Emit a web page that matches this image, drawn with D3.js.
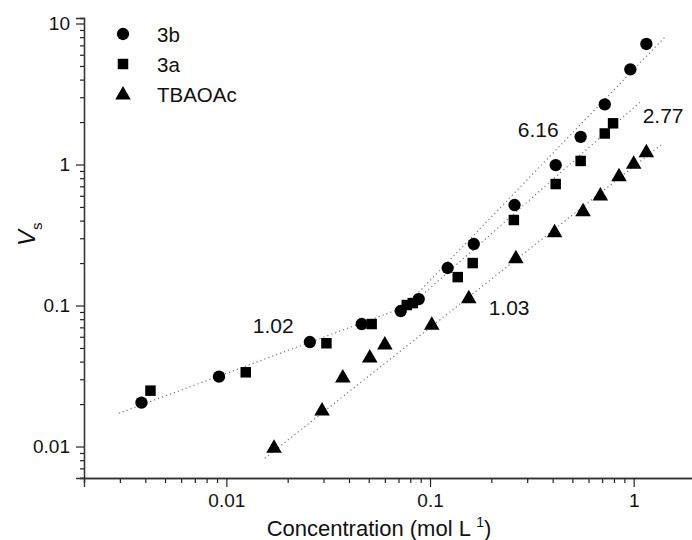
<!DOCTYPE html>
<html>
<head>
<meta charset="utf-8">
<script src="https://cdn.jsdelivr.net/npm/d3@7"></script>
<style>
  html, body { margin: 0; padding: 0; background: #fff; }
  svg { display: block; font-family: "Liberation Sans", Arial, sans-serif; }
</style>
</head>
<body>
<svg id="chart" width="692" height="540"></svg>
<script>
// Concentration (mol L-1) and Vs for each compound
const conc3b = [0.00383, 0.0092, 0.0257, 0.0462, 0.0718, 0.0880, 0.122, 0.164, 0.260, 0.414, 0.549, 0.721, 0.963, 1.154];
const vs3b   = [0.0205, 0.0313, 0.0551, 0.0739, 0.0914, 0.111, 0.1845, 0.273, 0.516, 0.99, 1.57, 2.67, 4.73, 7.16];

const conc3a = [0.00424, 0.01245, 0.031, 0.0517, 0.0769, 0.0823, 0.1368, 0.162, 0.258, 0.414, 0.549, 0.721, 0.792];
const vs3a   = [0.0249, 0.0336, 0.054, 0.0739, 0.1008, 0.104, 0.159, 0.200, 0.404, 0.727, 1.06, 1.66, 1.96];

const concTB = [0.01714, 0.0295, 0.0373, 0.0506, 0.060, 0.102, 0.155, 0.264, 0.409, 0.564, 0.686, 0.847, 1.0, 1.154];
const vsTB   = [0.00987, 0.01815, 0.0311, 0.0431, 0.0533, 0.0735, 0.1135, 0.218, 0.334, 0.470, 0.608, 0.833, 1.02, 1.23];

// Dotted fit lines, each given by its two end points [conc, Vs]
const fitLow    = [[0.00296, 0.0172], [0.09, 0.1075]];
const fitHigh3b = [[0.085, 0.118], [1.42, 7.98]];
const fitHigh3a = [[0.085, 0.108], [1.10, 2.85]];
const fitTB     = [[0.01545, 0.00825], [1.393, 1.413]];

// Slope annotations (left end of baseline)
const noteText = ["1.02", "6.16", "2.77", "1.03"];
const noteConc = [0.01348, 0.2695, 1.107, 0.194];
const noteVs   = [0.0638, 1.567, 1.969, 0.0857];

// Tick values
const xMajor = [0.01, 0.1, 1];
const xTickLabels = ["0.01", "0.1", "1"];
const yMajor = [0.01, 0.1, 1, 10];
const yTickLabels = ["0.01", "0.1", "1", "10"];

const legendNames = ["3b", "3a", "TBAOAc"];

const svg = d3.select("#chart");

const x = d3.scaleLog().domain([0.002, 2]).range([84, 695]);
const y = d3.scaleLog().domain([0.00598, 10.94]).range([478, 18]);

function minorTicks(lo, hi) {
  const out = [];
  for (let e = -4; e <= 2; e++) {
    for (let m = 1; m <= 9; m++) {
      const v = m * Math.pow(10, e);
      if (m !== 1 && v >= lo * 0.999 && v <= hi * 1.001) out.push(+v.toPrecision(3));
    }
  }
  return out;
}

// Axes
const xAxisMinor = d3.axisBottom(x).tickValues(minorTicks(0.002, 2)).tickSize(5).tickFormat("");
const xAxisMajor = d3.axisBottom(x).tickValues(xMajor).tickSize(9)
  .tickFormat((d, i) => xTickLabels[i]).tickPadding(7);
const yAxisMinor = d3.axisLeft(y).tickValues(minorTicks(0.00598, 10.94)).tickSize(4).tickFormat("");
const yAxisMajor = d3.axisLeft(y).tickValues(yMajor).tickSize(8)
  .tickFormat((d, i) => yTickLabels[i]).tickPadding(6);

const gx = svg.append("g").attr("transform", "translate(0,478)");
gx.append("g").call(xAxisMinor);
gx.append("g").call(xAxisMajor);
const gy = svg.append("g").attr("transform", "translate(84,0)");
gy.append("g").call(yAxisMinor);
gy.append("g").call(yAxisMajor);

svg.selectAll(".domain").attr("stroke", "#333").attr("stroke-width", 1.3);
svg.selectAll(".tick line").attr("stroke", "#222").attr("stroke-width", 1.2);
svg.selectAll(".tick text").attr("font-size", 19).attr("fill", "#111")
  .attr("font-family", "'Liberation Sans', Arial, sans-serif");

// Fit lines
const line = d3.line().x(d => x(d[0])).y(d => y(d[1]));
[fitLow, fitHigh3b, fitHigh3a, fitTB].forEach(seg => {
  svg.append("path").attr("d", line(seg))
    .attr("fill", "none").attr("stroke", "#777").attr("stroke-width", 1.2)
    .attr("stroke-dasharray", "1.2,3");
});

// Markers
const sym = {
  circle: d3.symbol().type(d3.symbolCircle).size(120),
  square: d3.symbol().type(d3.symbolSquare).size(110),
  triangle: d3.symbol().type(d3.symbolTriangle).size(105)
};
function drawSeries(cx, vy, shape, dy) {
  svg.append("g").selectAll("path").data(cx).join("path")
    .attr("d", sym[shape]())
    .attr("transform", (d, i) => `translate(${x(d)},${y(vy[i]) + (dy || 0)})`)
    .attr("fill", "#000");
}
drawSeries(conc3a, vs3a, "square");
drawSeries(conc3b, vs3b, "circle");
drawSeries(concTB, vsTB, "triangle", 1);

// Annotations
svg.append("g").selectAll("text").data(noteText).join("text")
  .attr("x", (d, i) => x(noteConc[i]))
  .attr("y", (d, i) => y(noteVs[i]))
  .attr("font-size", 21).attr("fill", "#111")
  .text(d => d);

// Legend
const legShapes = ["circle", "square", "triangle"];
const leg = svg.append("g");
legendNames.forEach((name, i) => {
  const cy = 34 + i * 30;
  leg.append("path").attr("d", sym[legShapes[i]]())
    .attr("transform", `translate(123,${cy + (i === 2 ? 1 : 0)})`).attr("fill", "#000");
  leg.append("text").attr("x", 157).attr("y", cy + 8)
    .attr("font-size", 20.5).attr("fill", "#111").text(name);
});

// Axis titles
const xt = svg.append("text").attr("x", 379).attr("y", 536)
  .attr("text-anchor", "middle").attr("font-size", 22).attr("fill", "#111");
xt.append("tspan").text("Concentration (mol L ");
xt.append("tspan").attr("font-size", 14).attr("dy", -9).text("1");
xt.append("tspan").attr("dy", 9).text(")");

const yt = svg.append("text").attr("transform", "translate(35,246) rotate(-90)")
  .attr("font-size", 24).attr("fill", "#111");
yt.append("tspan").attr("font-style", "italic").text("V");
yt.append("tspan").attr("font-size", 15).attr("dy", 7).text("s");
</script>
</body>
</html>
